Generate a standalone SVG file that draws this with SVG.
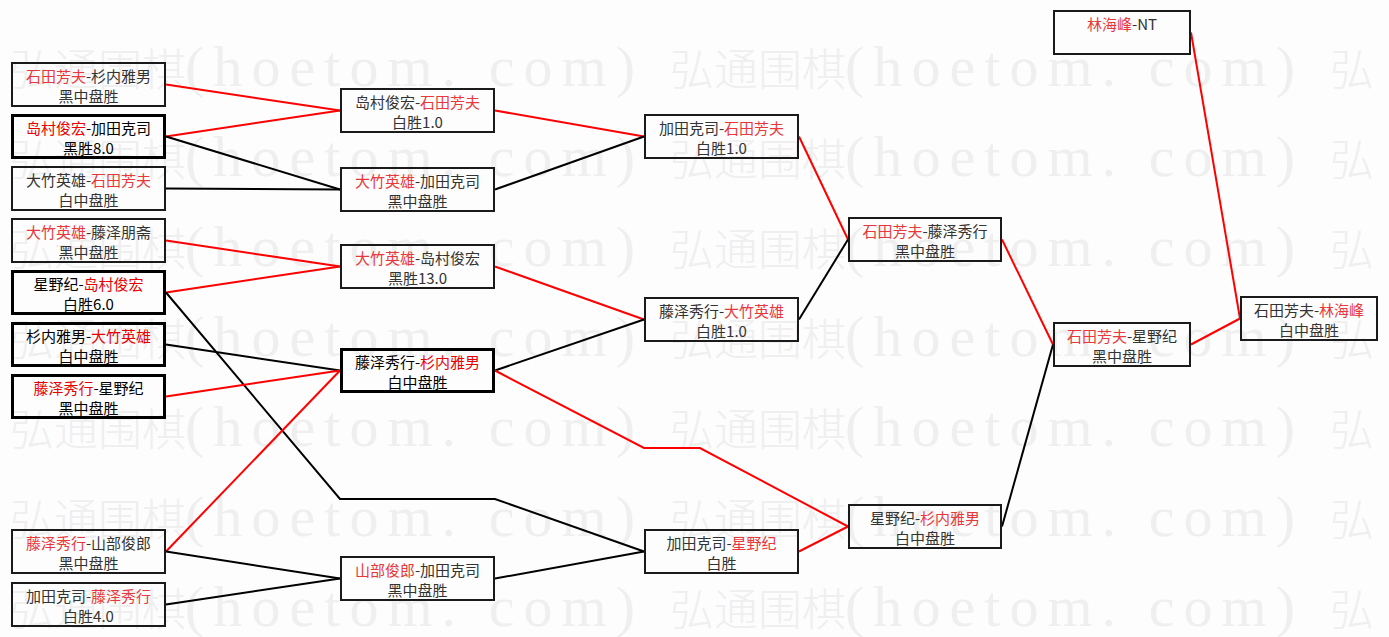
<svg xmlns="http://www.w3.org/2000/svg" xmlns:xlink="http://www.w3.org/1999/xlink" width="1389" height="637" viewBox="0 0 1389 637">
<style>
.bg{fill:#fdfdfd}
.wm{fill:#efefef}
.wc{font-family:"Noto Sans CJK SC","Noto Sans CJK JP",sans-serif;font-size:44px;font-weight:300}
.wl{font-family:"Liberation Serif",serif;font-size:58px}
.box{fill:none;stroke:#1a1a1a;stroke-width:2}
.strong .box{stroke:#000;stroke-width:3}
.t{font-family:"Noto Sans CJK SC","Noto Sans CJK JP",sans-serif;font-size:15px;fill:#333;text-anchor:middle}
.strong .t{fill:#000}
.r{fill:#e8383b}
.strong .r{fill:#e80000}
.lr{stroke:#f00;stroke-width:2;fill:none}
.lb{stroke:#000;stroke-width:2;fill:none}
</style>
<defs>
<g id="wmrow">
<text class="wc" x="10" y="86">弘通围棋</text><text class="wl" x="185" y="86" textLength="450" lengthAdjust="spacing">(hoetom. com)</text>
<text class="wc" x="670" y="86">弘通围棋</text><text class="wl" x="845" y="86" textLength="450" lengthAdjust="spacing">(hoetom. com)</text>
<text class="wc" x="1330" y="86">弘</text>
</g>
</defs>
<rect class="bg" x="0" y="0" width="1389" height="637"/>
<g id="watermark" class="wm">
<use xlink:href="#wmrow" href="#wmrow"/>
<use xlink:href="#wmrow" href="#wmrow" y="90"/>
<use xlink:href="#wmrow" href="#wmrow" y="180"/>
<use xlink:href="#wmrow" href="#wmrow" y="270"/>
<use xlink:href="#wmrow" href="#wmrow" y="360"/>
<use xlink:href="#wmrow" href="#wmrow" y="450"/>
<use xlink:href="#wmrow" href="#wmrow" y="540"/>
</g>
<g id="connectors">
<line class="lr" x1="166" y1="84.5" x2="340" y2="110.5"/>
<line class="lr" x1="166" y1="136.5" x2="340" y2="110.5"/>
<line class="lb" x1="166" y1="136.5" x2="340" y2="189.5"/>
<line class="lb" x1="166" y1="188.5" x2="340" y2="189.5"/>
<line class="lr" x1="495" y1="110.5" x2="644" y2="136.5"/>
<line class="lb" x1="495" y1="189.5" x2="644" y2="136.5"/>
<line class="lr" x1="166" y1="240.5" x2="340" y2="266.5"/>
<line class="lr" x1="166" y1="292.5" x2="340" y2="266.5"/>
<polyline class="lb" points="166,292.5 340,499 495,499 644,551.5"/>
<line class="lb" x1="166" y1="344.5" x2="340" y2="370.5"/>
<line class="lr" x1="166" y1="396.5" x2="340" y2="370.5"/>
<line class="lr" x1="166" y1="551.5" x2="340" y2="370.5"/>
<line class="lb" x1="166" y1="551.5" x2="340" y2="578.5"/>
<line class="lb" x1="166" y1="604.5" x2="340" y2="578.5"/>
<line class="lr" x1="495" y1="266.5" x2="644" y2="319.5"/>
<line class="lb" x1="495" y1="370.5" x2="644" y2="319.5"/>
<polyline class="lr" points="495,370.5 644,448 700,448 848,526.5"/>
<line class="lb" x1="495" y1="578.5" x2="644" y2="551.5"/>
<line class="lr" x1="799" y1="136.5" x2="848" y2="239.5"/>
<line class="lb" x1="799" y1="319.5" x2="848" y2="239.5"/>
<line class="lr" x1="799" y1="551.5" x2="848" y2="526.5"/>
<line class="lr" x1="1002" y1="239.5" x2="1053" y2="344.5"/>
<line class="lb" x1="1002" y1="526.5" x2="1053" y2="344.5"/>
<line class="lr" x1="1191" y1="344.5" x2="1240" y2="318.5"/>
<line class="lr" x1="1191" y1="32.5" x2="1240" y2="318.5"/>
</g>
<g id="n1"><rect class="box" x="12" y="63" width="153" height="43"/><text class="t" x="88.5" y="82"><tspan class="r">石田芳夫</tspan>-杉内雅男</text><text class="t" x="88.5" y="102">黑中盘胜</text></g>
<g id="n2" class="strong"><rect class="box" x="12.5" y="115.5" width="152" height="42"/><text class="t" x="88.5" y="134"><tspan class="r">岛村俊宏</tspan>-加田克司</text><text class="t" x="88.5" y="154">黑胜8.0</text></g>
<g id="n3"><rect class="box" x="12" y="167" width="153" height="43"/><text class="t" x="88.5" y="186">大竹英雄-<tspan class="r">石田芳夫</tspan></text><text class="t" x="88.5" y="206">白中盘胜</text></g>
<g id="n4"><rect class="box" x="12" y="219" width="153" height="43"/><text class="t" x="88.5" y="238"><tspan class="r">大竹英雄</tspan>-藤泽朋斋</text><text class="t" x="88.5" y="258">黑中盘胜</text></g>
<g id="n5" class="strong"><rect class="box" x="12.5" y="271.5" width="152" height="42"/><text class="t" x="88.5" y="290">星野纪-<tspan class="r">岛村俊宏</tspan></text><text class="t" x="88.5" y="310">白胜6.0</text></g>
<g id="n6" class="strong"><rect class="box" x="12.5" y="323.5" width="152" height="42"/><text class="t" x="88.5" y="342">杉内雅男-<tspan class="r">大竹英雄</tspan></text><text class="t" x="88.5" y="362">白中盘胜</text></g>
<g id="n7" class="strong"><rect class="box" x="12.5" y="375.5" width="152" height="42"/><text class="t" x="88.5" y="394"><tspan class="r">藤泽秀行</tspan>-星野纪</text><text class="t" x="88.5" y="414">黑中盘胜</text></g>
<g id="n8"><rect class="box" x="12" y="530" width="153" height="43"/><text class="t" x="88.5" y="549"><tspan class="r">藤泽秀行</tspan>-山部俊郎</text><text class="t" x="88.5" y="569">黑中盘胜</text></g>
<g id="n9"><rect class="box" x="12" y="583" width="153" height="43"/><text class="t" x="88.5" y="602">加田克司-<tspan class="r">藤泽秀行</tspan></text><text class="t" x="88.5" y="622">白胜4.0</text></g>
<g id="nA"><rect class="box" x="341" y="89" width="153" height="43"/><text class="t" x="417.5" y="108">岛村俊宏-<tspan class="r">石田芳夫</tspan></text><text class="t" x="417.5" y="128">白胜1.0</text></g>
<g id="nB"><rect class="box" x="341" y="168" width="153" height="43"/><text class="t" x="417.5" y="187"><tspan class="r">大竹英雄</tspan>-加田克司</text><text class="t" x="417.5" y="207">黑中盘胜</text></g>
<g id="nC"><rect class="box" x="341" y="245" width="153" height="43"/><text class="t" x="417.5" y="264"><tspan class="r">大竹英雄</tspan>-岛村俊宏</text><text class="t" x="417.5" y="284">黑胜13.0</text></g>
<g id="nD" class="strong"><rect class="box" x="341.5" y="349.5" width="152" height="42"/><text class="t" x="417.5" y="368">藤泽秀行-<tspan class="r">杉内雅男</tspan></text><text class="t" x="417.5" y="388">白中盘胜</text></g>
<g id="nE"><rect class="box" x="341" y="557" width="153" height="43"/><text class="t" x="417.5" y="576"><tspan class="r">山部俊郎</tspan>-加田克司</text><text class="t" x="417.5" y="596">黑中盘胜</text></g>
<g id="nF"><rect class="box" x="645" y="115" width="153" height="43"/><text class="t" x="721.5" y="134">加田克司-<tspan class="r">石田芳夫</tspan></text><text class="t" x="721.5" y="154">白胜1.0</text></g>
<g id="nG"><rect class="box" x="645" y="298" width="153" height="43"/><text class="t" x="721.5" y="317">藤泽秀行-<tspan class="r">大竹英雄</tspan></text><text class="t" x="721.5" y="337">白胜1.0</text></g>
<g id="nH"><rect class="box" x="645" y="530" width="153" height="43"/><text class="t" x="721.5" y="549">加田克司-<tspan class="r">星野纪</tspan></text><text class="t" x="721.5" y="569">白胜</text></g>
<g id="nI"><rect class="box" x="849" y="218" width="152" height="43"/><text class="t" x="925" y="237"><tspan class="r">石田芳夫</tspan>-藤泽秀行</text><text class="t" x="925" y="257">黑中盘胜</text></g>
<g id="nJ"><rect class="box" x="849" y="505" width="152" height="43"/><text class="t" x="925" y="524">星野纪-<tspan class="r">杉内雅男</tspan></text><text class="t" x="925" y="544">白中盘胜</text></g>
<g id="nK"><rect class="box" x="1054" y="323" width="136" height="43"/><text class="t" x="1122" y="342"><tspan class="r">石田芳夫</tspan>-星野纪</text><text class="t" x="1122" y="362">黑中盘胜</text></g>
<g id="nL"><rect class="box" x="1054" y="11" width="136" height="43"/><text class="t" x="1122" y="30"><tspan class="r">林海峰</tspan>-NT</text></g>
<g id="nM"><rect class="box" x="1241" y="297" width="136" height="43"/><text class="t" x="1309" y="316">石田芳夫-<tspan class="r">林海峰</tspan></text><text class="t" x="1309" y="336">白中盘胜</text></g>
</svg>
